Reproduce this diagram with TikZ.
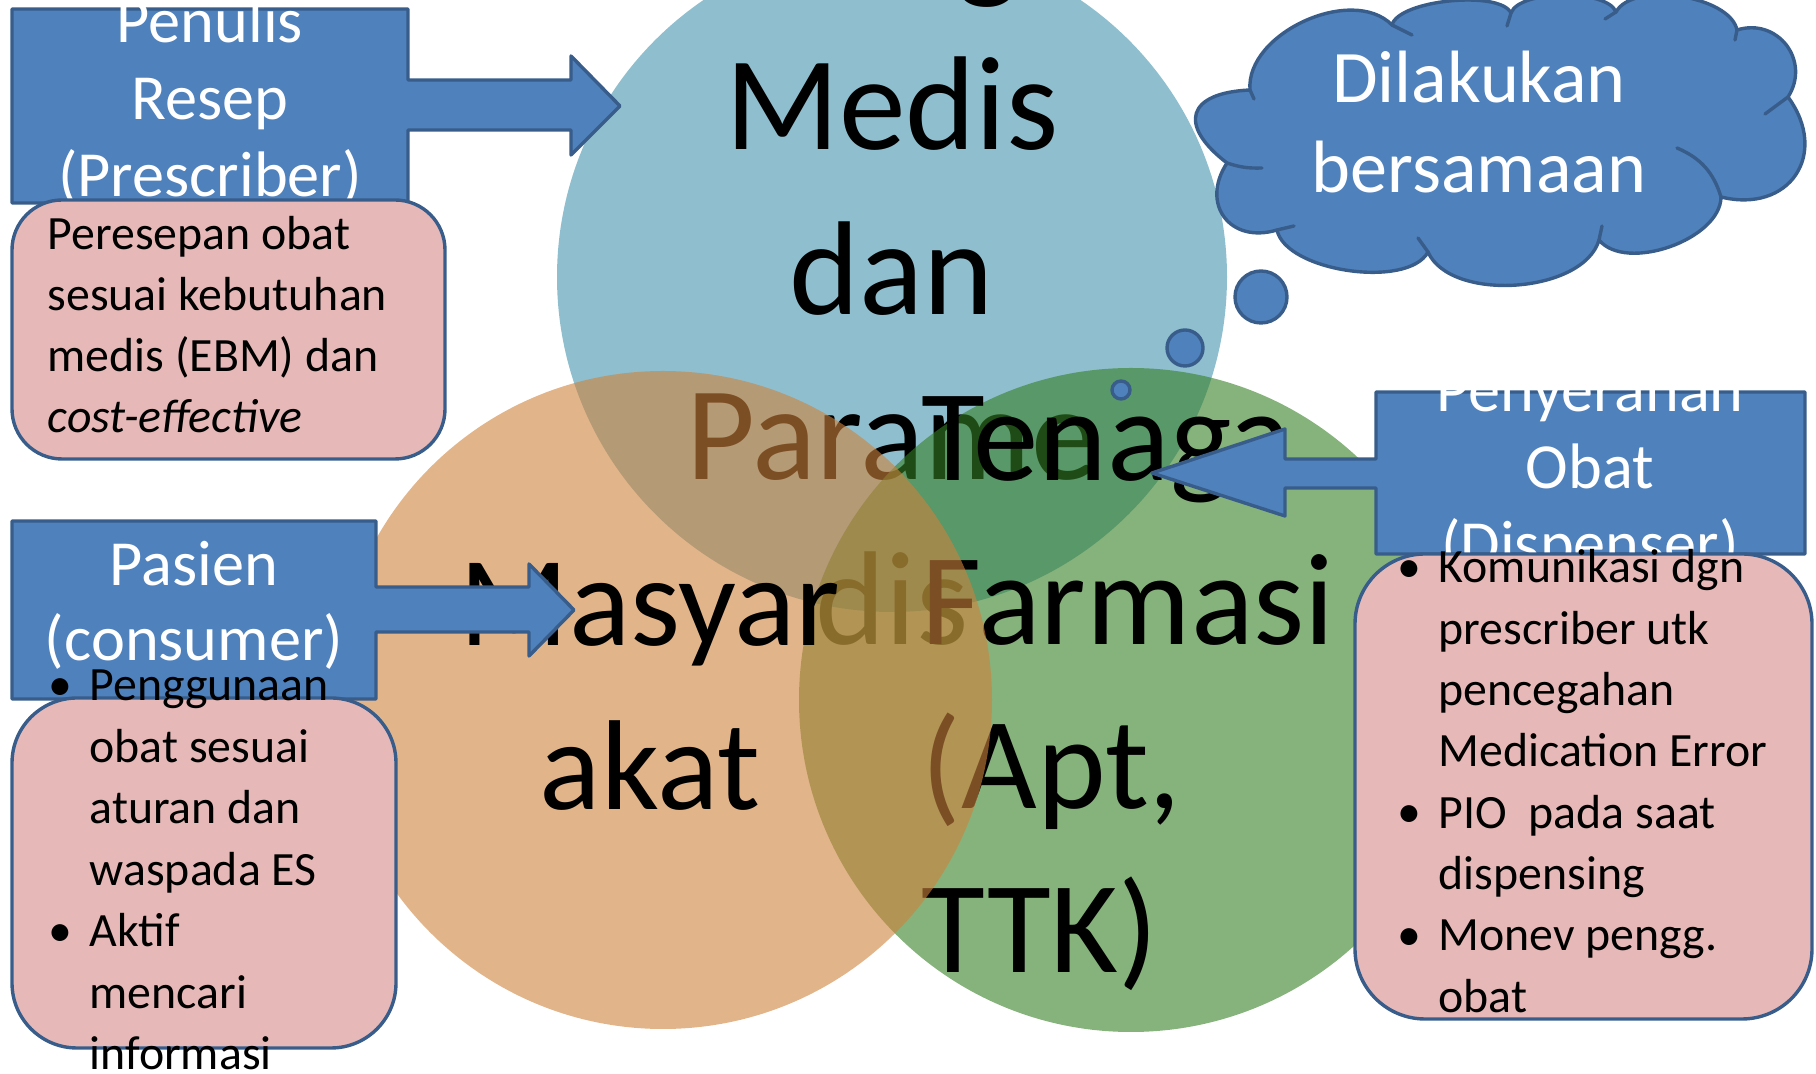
\documentclass[tikz,border=0pt]{standalone}
\usepackage{fontspec}
\setmainfont{Carlito}
\definecolor{boxblue}{RGB}{79,129,189}
\definecolor{boxline}{RGB}{56,93,138}
\definecolor{notepink}{RGB}{230,185,184}
\definecolor{vennblue}{RGB}{68,148,173}
\definecolor{vennorange}{RGB}{207,130,60}
\definecolor{venngreen}{RGB}{53,127,37}
\begin{document}
\begin{tikzpicture}[x=0.1mm, y=-0.1mm,
    callout/.style={fill=boxblue, draw=boxline, line width=0.34mm, line join=round},
    stub/.style={draw=boxline, line width=0.34mm, line cap=round},
    note/.style={fill=notepink, draw=boxline, line width=0.34mm},
    bigtxt/.style={font=\fontsize{36.4}{44}\selectfont, inner sep=0pt, anchor=base},
    headtxt/.style={text=white, font=\fontsize{18.3}{22}\selectfont, inner sep=0pt, anchor=base},
    cloudtxt/.style={text=white, font=\fontsize{21.1}{25}\selectfont, inner sep=0pt, anchor=base},
    bodytxt/.style={font=\fontsize{13.6}{17}\selectfont, inner sep=0pt, anchor=base west}]
			%%%%% START %%%%%
			\useasboundingbox (0,0) rectangle (1816,1074);
			
			% circle of tenaga medis
			\fill[vennblue, fill opacity=0.6] (892,277) circle (335);
			\foreach \t/\y [count=\i] in {Tenaga/-15, Medis/150, dan/315, Parame/480, dis/645}
				\node[bigtxt, font=\fontsize{38}{46}\selectfont] (medis-\i) at (892,\y) {\t};
			
			% circle of tenaga farmasi
			\fill[venngreen, fill opacity=0.6] (1131,700) circle (332);
			\foreach \t/\y [count=\i] in {Tenaga/481, Farmasi/645, {(Apt,}/809, TTK)/973}
				\node[bigtxt, anchor=base west, font=\fontsize{37.2}{45}\selectfont] (farmasi-\i) at (921,\y) {\t};
			
			% circle of masyarakat
			\fill[vennorange, fill opacity=0.6] (663,700) circle (329);
			\foreach \t/\y [count=\i] in {Masyar/646, akat/810}
				\node[bigtxt] (masy-\i) at (650,\y) {\t};
			
			% thought cloud
			\draw[callout] (1121,390) circle (9);
			\draw[callout] (1185,348) circle (18);
			\draw[callout] (1261,297) circle (26);
			\draw[callout] (1250,90) to[bend right=70, looseness=2.1] (1227,163)
				to[bend right=70, looseness=1.5] (1277,230)
				to[bend right=70, looseness=0.71] (1428,252)
				to[bend right=70, looseness=0.83] (1599,240)
				to[bend right=70, looseness=0.84] (1721,197)
				to[bend right=70, looseness=1.5] (1788,97)
				to[bend right=70, looseness=1.3] (1737,30)
				to[bend right=70, looseness=0.74] (1616,12)
				to[bend right=70, looseness=0.6] (1511,13)
				to[bend right=70, looseness=0.55] (1392,25)
				to[bend right=70, looseness=0.93] (1250,90) -- cycle;
			\draw[stub] (1227,163) to[bend right=10] (1262,168);
			\draw[stub] (1277,230) -- (1294,226);
			\draw[stub] (1428,252) -- (1418,238);
			\draw[stub] (1599,240) -- (1602,226);
			\draw[stub] (1721,197) to[bend right=25] (1677,148);
			\draw[stub] (1788,97) -- (1765,114);
			\draw[stub] (1737,30) -- (1735,40);
			\draw[stub] (1616,12) -- (1605,19);
			\draw[stub] (1511,13) -- (1507,26);
			\draw[stub] (1392,25) -- (1412,35);
			\draw[stub] (1250,90) -- (1254,99);
			\foreach \t/\y [count=\i] in {Dilakukan/103, bersamaan/193}
				\node[cloudtxt] (cloud-\i) at (1479,\y) {\t};
			
			% callouts with arrows
			\draw[callout] (12,9) -- (408,9) -- (408,80) -- (571,80) -- (571,56) -- (620,106)
				-- (571,155) -- (571,130) -- (408,130) -- (408,203) -- (12,203) -- cycle;
			\draw[callout] (12,521) -- (376,521) -- (376,587) -- (529,587) -- (529,564) -- (574,610)
				-- (529,656) -- (529,632) -- (376,632) -- (376,699) -- (12,699) -- cycle;
			\draw[callout] (1376,392) -- (1805,392) -- (1805,554) -- (1376,554) -- (1376,488) -- (1285,488)
				-- (1285,516) -- (1152,473) -- (1285,429) -- (1285,459) -- (1376,459) -- cycle;
			\foreach \t/\y [count=\i] in {Penulis/43, Resep/120, (Prescriber)/197}
				\node[headtxt] (penulis-\i) at (210,\y) {\t};
			\foreach \t/\y [count=\i] in {Pasien/586, (consumer)/661}
				\node[headtxt] (pasien-\i) at (194,\y) {\t};
			\foreach \t/\y [count=\i] in {Penyerahan/412, Obat/489, (Dispenser)/566}
				\node[headtxt] (penyerahan-\i) at (1590,\y) {\t};
			
			% pink notes
			\draw[note, rounded corners=5mm] (12,200) rectangle (445,459);
			\foreach \t [count=\i from 0] in {Peresepan obat, sesuai kebutuhan, medis (EBM) dan, \textit{cost-effective}}
				\node[bodytxt] (resep-\i) at (47,250+61*\i) {\t};
			
			\draw[note, rounded corners=6.5mm] (12,698) rectangle (396,1048);
			\foreach \t [count=\i from 0] in {Penggunaan, obat sesuai, aturan dan, waspada ES, Aktif, mencari, informasi}
				\node[bodytxt] (guna-\i) at (89,701+61.5*\i) {\t};
			\foreach \y [count=\i] in {701, 947}
				\node[bodytxt, anchor=base] (dot-a\i) at (60,\y) {\textbullet};
			
			\draw[note, rounded corners=7mm] (1355,554) rectangle (1812,1019);
			\foreach \t [count=\i from 0] in {Komunikasi dgn, prescriber utk, pencegahan, Medication Error,
					PIO\ \ pada saat, dispensing, Monev pengg., obat}
				\node[bodytxt] (dispen-\i) at (1438,583+61.3*\i) {\t};
			\foreach \y [count=\i] in {583, 828, 951}
				\node[bodytxt, anchor=base] (dot-b\i) at (1409,\y) {\textbullet};
			
			%%%%% END %%%%%
\end{tikzpicture}
\end{document}
